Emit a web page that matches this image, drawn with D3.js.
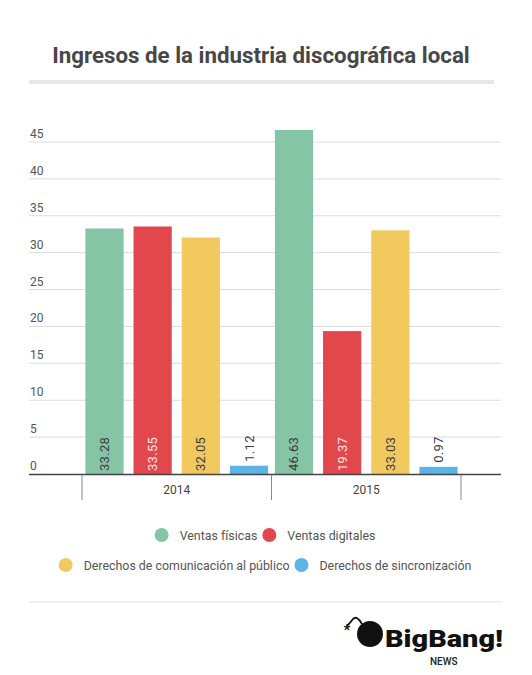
<!DOCTYPE html>
<html>
<head>
<meta charset="utf-8">
<script src="https://cdn.jsdelivr.net/npm/d3@7"></script>
<style>
  html, body { margin: 0; padding: 0; background: #fff; }
  svg { display: block; font-family: Roboto, "Noto Sans", sans-serif; }
</style>
</head>
<body>
<svg id="chart" width="532" height="675"></svg>
<script>
const title = "Ingresos de la industria discográfica local";
const years = ["2014", "2015"];
const seriesNames = ["Ventas físicas", "Ventas digitales", "Derechos de comunicación al público", "Derechos de sincronización"];
const seriesColors = ["#86c4a6", "#e2474e", "#f2c95f", "#5ab4e6"];
const labelColors = ["#3c3c3c", "#fde8e8", "#3c3c3c", "#3c3c3c"];
const values2014 = [33.28, 33.55, 32.05, 1.12];
const values2015 = [46.63, 19.37, 33.03, 0.97];
const yTicks = [0, 5, 10, 15, 20, 25, 30, 35, 40, 45];

const valuesByYear = [values2014, values2015];
const svg = d3.select("#chart");

// Title
svg.append("text")
  .attr("x", 261).attr("y", 63)
  .attr("text-anchor", "middle")
  .attr("font-size", 22.3).attr("font-weight", 700)
  .attr("fill", "#474747")
  .text(title);
svg.append("rect").attr("x", 29).attr("y", 80).attr("width", 465).attr("height", 4).attr("fill", "#e8e8e8");

// Scales
const y = d3.scaleLinear().domain([0, 45]).range([474, 142]);
const x0 = d3.scaleBand().domain(years).range([82, 461]).padding(0);
const x1 = d3.scaleBand().domain(seriesNames).range([0, x0.bandwidth()]).paddingInner(0.207).paddingOuter(0.07);

// Gridlines + tick labels
const grid = svg.append("g");
grid.selectAll("line").data(yTicks.filter(d => d > 0)).join("line")
  .attr("x1", 29).attr("x2", 501)
  .attr("y1", d => y(d)).attr("y2", d => y(d))
  .attr("stroke", "#dcdcdc").attr("stroke-width", 1);
grid.selectAll("text").data(yTicks).join("text")
  .attr("x", 30).attr("y", d => y(d) - 4)
  .attr("font-size", 12).attr("fill", "#555")
  .text(d => d);

// Bars
const groups = svg.append("g").selectAll("g").data(years).join("g")
  .attr("transform", d => `translate(${x0(d)},0)`);
groups.each(function(year, yi) {
  const g = d3.select(this);
  const data = seriesNames.map((s, i) => ({ s, i, v: valuesByYear[yi][i] }));
  g.selectAll("rect").data(data).join("rect")
    .attr("x", d => x1(d.s)).attr("width", x1.bandwidth())
    .attr("y", d => y(d.v)).attr("height", d => y(0) - y(d.v))
    .attr("fill", d => seriesColors[d.i]);
  g.selectAll("text").data(data).join("text")
    .attr("transform", d => {
      const cx = x1(d.s) + x1.bandwidth() / 2 + 4.5;
      const big = (y(0) - y(d.v)) > 40;
      const yy = big ? y(0) - 3 : y(d.v) - 4;
      return `translate(${cx},${yy}) rotate(-90)`;
    })
    .attr("text-anchor", "start")
    .attr("font-size", 13).attr("letter-spacing", 0.3)
    .attr("fill", d => ((y(0) - y(d.v)) > 40) ? labelColors[d.i] : "#3c3c3c")
    .text(d => d.v.toFixed(2));
});

// X axis
const axis = svg.append("g");
axis.append("line").attr("x1", 29).attr("x2", 501).attr("y1", 474.5).attr("y2", 474.5)
  .attr("stroke", "#444").attr("stroke-width", 1.5);
const tickXs = [x0(years[0]), x0(years[1]), x0(years[1]) + x0.bandwidth()];
axis.selectAll("line.tick").data(tickXs).join("line").attr("class", "tick")
  .attr("x1", d => d).attr("x2", d => d).attr("y1", 475).attr("y2", 500)
  .attr("stroke", "#888").attr("stroke-width", 1);
axis.selectAll("text").data(years).join("text")
  .attr("x", d => x0(d) + x0.bandwidth() / 2).attr("y", 494)
  .attr("text-anchor", "middle").attr("font-size", 12).attr("fill", "#444")
  .text(d => d);

// Legend
const legendRows = [[0, 1], [2, 3]];
const legendY = [535, 565];
const legendFont = 12.4;
legendRows.forEach((row, ri) => {
  const g = svg.append("g");
  let xPos = 0;
  const items = row.map(i => {
    const it = { i, x: xPos };
    const tmp = g.append("text").attr("font-size", legendFont).text(seriesNames[i]);
    const w = tmp.node().getComputedTextLength();
    tmp.remove();
    xPos += 18 + w + 12;
    return it;
  });
  const total = xPos - 12 + 7;
  const start = 265 - total / 2;
  items.forEach(it => {
    g.append("circle").attr("cx", start + it.x + 7).attr("cy", legendY[ri]).attr("r", 7)
      .attr("fill", seriesColors[it.i]);
    g.append("text").attr("x", start + it.x + 25).attr("y", legendY[ri] + 4.5)
      .attr("font-size", legendFont).attr("fill", "#555").text(seriesNames[it.i]);
  });
});

// Bottom separator
svg.append("rect").attr("x", 29).attr("y", 601).attr("width", 473).attr("height", 1.5).attr("fill", "#ececec");

// Logo
const logo = svg.append("g");
logo.append("circle").attr("cx", 370).attr("cy", 634).attr("r", 13).attr("fill", "#111");
logo.append("path").attr("d", "M362 624 Q357 615 353 619 Q350 623 347 626")
  .attr("fill", "none").attr("stroke", "#111").attr("stroke-width", 1.8);
logo.append("text").attr("x", 347).attr("y", 635).attr("text-anchor", "middle")
  .attr("font-size", 15).attr("font-weight", 700).attr("fill", "#111").text("*");
logo.append("text").attr("x", 385).attr("y", 647)
  .attr("font-size", 24).attr("font-weight", 900).attr("fill", "#111")
  .attr("textLength", 118).attr("lengthAdjust", "spacingAndGlyphs")
  .attr("font-family", "Roboto, sans-serif").text("BigBang!");
logo.append("text").attr("x", 430).attr("y", 665)
  .attr("font-size", 10).attr("font-weight", 500).attr("fill", "#222").text("NEWS");
</script>
</body>
</html>
